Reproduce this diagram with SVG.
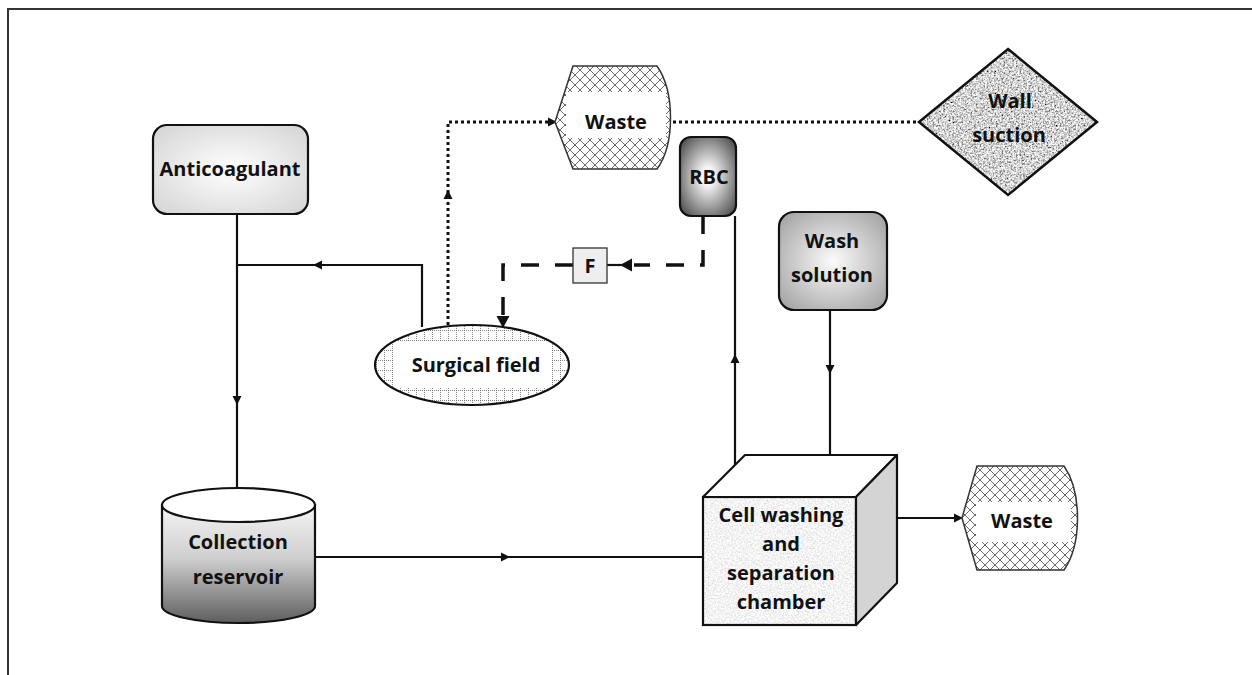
<svg xmlns="http://www.w3.org/2000/svg" xmlns:xlink="http://www.w3.org/1999/xlink" width="1252" height="675" viewBox="0 0 1252 675">
<style>
  .lbl { font-family: "Open Sans", "Liberation Sans", Arial, sans-serif; font-weight: bold; font-size: 20px; fill: #111; text-anchor: middle; }
  .shape { stroke: #111; stroke-width: 2.2; }
  .solid { fill: none; stroke: #111; stroke-width: 2.2; }
  .dotted { fill: none; stroke: #111; stroke-width: 3; stroke-dasharray: 3 3; }
  .dashed { fill: none; stroke: #111; stroke-width: 3.5; stroke-dasharray: 18 16; }
  .ah { fill: #111; }
</style>
<defs>
  <pattern id="hatch" patternUnits="userSpaceOnUse" width="10" height="10">
    <rect width="10" height="10" fill="#fff"/>
    <path d="M0 0 L10 10 M10 0 L0 10 M-1 9 L1 11 M9 -1 L11 1 M-1 1 L1 -1 M9 11 L11 9" stroke="#444" stroke-width="0.8"/>
  </pattern>
  <pattern id="dotgrid" patternUnits="userSpaceOnUse" width="8" height="10">
    <rect width="8" height="10" fill="#fff"/>
    <path d="M0.5 0 L0.5 10" stroke="#666" stroke-width="0.8" stroke-dasharray="1 1"/>
    <path d="M0 0.5 L8 0.5" stroke="#666" stroke-width="0.8" stroke-dasharray="1 1"/>
  </pattern>
  <radialGradient id="gAnti" cx="50%" cy="50%" r="65%">
    <stop offset="0" stop-color="#ffffff"/>
    <stop offset="1" stop-color="#d6d6d6"/>
  </radialGradient>
  <radialGradient id="gRbc" cx="50%" cy="50%" r="62%">
    <stop offset="0" stop-color="#ffffff"/>
    <stop offset="0.2" stop-color="#f2f2f2"/>
    <stop offset="1" stop-color="#555555"/>
  </radialGradient>
  <radialGradient id="gWash" cx="50%" cy="50%" r="65%">
    <stop offset="0" stop-color="#fbfbfb"/>
    <stop offset="1" stop-color="#a4a4a4"/>
  </radialGradient>
  <linearGradient id="gCyl" x1="0" y1="0" x2="0" y2="1">
    <stop offset="0" stop-color="#f4f4f4"/>
    <stop offset="0.45" stop-color="#cfcfcf"/>
    <stop offset="1" stop-color="#5e5e5e"/>
  </linearGradient>
  <filter id="noiseDark" x="0" y="0" width="1" height="1">
    <feTurbulence type="fractalNoise" baseFrequency="0.55" numOctaves="3" seed="4" result="t"/>
    <feColorMatrix in="t" type="matrix" values="1.9 0 0 0 -0.3  1.9 0 0 0 -0.3  1.9 0 0 0 -0.3  0 0 0 0 1" result="g"/>
    <feComposite in="g" in2="SourceAlpha" operator="in"/>
  </filter>
  <filter id="noiseLight" x="0" y="0" width="1" height="1">
    <feTurbulence type="fractalNoise" baseFrequency="0.6" numOctaves="3" seed="7" result="t"/>
    <feColorMatrix in="t" type="matrix" values="0.6 0 0 0 0.6  0.6 0 0 0 0.6  0.6 0 0 0 0.6  0 0 0 0 1" result="g"/>
    <feComposite in="g" in2="SourceAlpha" operator="in"/>
  </filter>
  <path id="ah" d="M0 0 L-9 -4.5 L-9 4.5 Z"/>
  <path id="ahL" d="M0 0 L-12 -6.5 L-12 6.5 Z"/>
</defs>

<rect width="1252" height="675" fill="#fff"/>
<g id="frame">
  <line x1="7" y1="9" x2="1252" y2="9" stroke="#333" stroke-width="2"/>
  <line x1="8" y1="8" x2="8" y2="675" stroke="#333" stroke-width="2"/>
</g>

<g id="connectors">
  <line class="solid" x1="237" y1="214" x2="237" y2="488"/>
  <use xlink:href="#ah" class="ah" transform="translate(237,405) rotate(90)"/>
  <polyline class="solid" points="237,265 422,265 422,327"/>
  <use xlink:href="#ah" class="ah" transform="translate(313,265) rotate(180)"/>
  <polyline class="dotted" points="448,325 448,122 550,122"/>
  <use xlink:href="#ah" class="ah" transform="translate(448,190) rotate(-90)"/>
  <use xlink:href="#ah" class="ah" transform="translate(557,122)"/>
  <line class="dotted" x1="673" y1="122" x2="919" y2="122"/>
  <polyline class="dashed" points="703,216 703,265 634,265"/>
  <line class="solid" x1="607" y1="265" x2="625" y2="265" stroke-width="3.5"/>
  <use xlink:href="#ahL" class="ah" transform="translate(620,265) rotate(180)"/>
  <polyline class="dashed" points="573,265 503,265 503,318"/>
  <use xlink:href="#ahL" class="ah" transform="translate(503,328) rotate(90)"/>
  <line class="solid" x1="735" y1="216" x2="735" y2="466"/>
  <use xlink:href="#ah" class="ah" transform="translate(735,354) rotate(-90)"/>
  <line class="solid" x1="830" y1="310" x2="830" y2="455"/>
  <use xlink:href="#ah" class="ah" transform="translate(830,374) rotate(90)"/>
  <line class="solid" x1="315" y1="557" x2="703" y2="557"/>
  <use xlink:href="#ah" class="ah" transform="translate(510,557)"/>
  <line class="solid" x1="897" y1="518" x2="955" y2="518"/>
  <use xlink:href="#ah" class="ah" transform="translate(963,518)"/>
</g>

<g id="anticoagulant">
  <rect class="shape" x="153" y="125" width="155" height="89" rx="14" fill="url(#gAnti)" stroke-width="1.5"/>
  <text class="lbl" x="230" y="176">Anticoagulant</text>
</g>

<g id="waste-top">
  <path d="M573 66 L657 66 C675 92 675 144 657 169 L573 169 L555 122 Z" fill="url(#hatch)" stroke="#333" stroke-width="1.5"/>
  <rect x="566" y="92" width="100" height="46" fill="#fff"/>
  <text class="lbl" x="616" y="129">Waste</text>
</g>

<g id="wall-suction">
  <path d="M1008 49 L1097 122 L1008 195 L919 122 Z" fill="#999" filter="url(#noiseDark)"/>
  <path d="M1008 49 L1097 122 L1008 195 L919 122 Z" fill="none" stroke="#111" stroke-width="2.5"/>
  <text class="lbl" x="1010" y="108">Wall</text>
  <text class="lbl" x="1009" y="142">suction</text>
</g>

<g id="rbc">
  <rect class="shape" x="680" y="137" width="56" height="79" rx="11" fill="url(#gRbc)" stroke-width="1.5"/>
  <text class="lbl" x="709" y="184">RBC</text>
</g>

<g id="filter-f">
  <rect x="573" y="248" width="34" height="35" fill="#eeeeee" stroke="#333" stroke-width="1.3"/>
  <text class="lbl" x="590" y="273" font-size="18">F</text>
</g>

<g id="surgical-field">
  <ellipse cx="472" cy="365" rx="97" ry="40" fill="url(#dotgrid)"/>
  <rect x="393" y="342" width="158" height="46" fill="#fff"/>
  <ellipse cx="472" cy="365" rx="97" ry="40" fill="none" stroke="#111" stroke-width="2.2"/>
  <text class="lbl" x="476" y="372">Surgical field</text>
</g>

<g id="wash-solution">
  <rect class="shape" x="779" y="212" width="108" height="98" rx="15" fill="url(#gWash)" stroke-width="1.5"/>
  <text class="lbl" x="832" y="248">Wash</text>
  <text class="lbl" x="832" y="282">solution</text>
</g>

<g id="collection-reservoir">
  <path d="M162 505 L162 606 A76.5 17 0 0 0 315 606 L315 505 Z" fill="url(#gCyl)" stroke="#111" stroke-width="2.2"/>
  <ellipse cx="238.5" cy="505" rx="76.5" ry="17" fill="#fff" stroke="#111" stroke-width="2.2"/>
  <text class="lbl" x="238" y="549">Collection</text>
  <text class="lbl" x="238" y="584">reservoir</text>
</g>

<g id="cell-washing-chamber">
  <rect x="703" y="497" width="153" height="128" fill="#e6e6e6" filter="url(#noiseLight)"/>
  <rect x="703" y="497" width="153" height="128" fill="none" stroke="#111" stroke-width="2.2"/>
  <path d="M703 497 L745 455 L897 455 L856 497 Z" fill="#fff" stroke="#111" stroke-width="2.2" stroke-linejoin="round"/>
  <path d="M856 497 L897 455 L897 583 L856 625 Z" fill="#d4d4d4" stroke="#111" stroke-width="2.2" stroke-linejoin="round"/>
  <text class="lbl" x="781" y="522">Cell washing</text>
  <text class="lbl" x="781" y="551">and</text>
  <text class="lbl" x="781" y="580">separation</text>
  <text class="lbl" x="781" y="609">chamber</text>
</g>

<g id="waste-bottom">
  <path d="M977 466 L1064 466 C1082 492 1082 544 1064 570 L977 570 L962 518 Z" fill="url(#hatch)" stroke="#333" stroke-width="1.5"/>
  <rect x="976" y="502" width="95" height="40" fill="#fff"/>
  <text class="lbl" x="1022" y="528">Waste</text>
</g>
</svg>
